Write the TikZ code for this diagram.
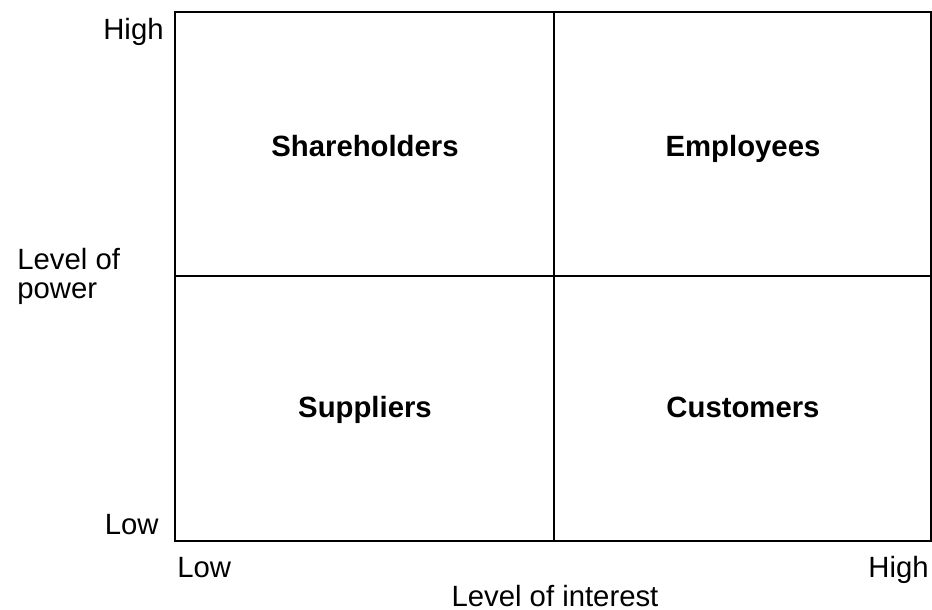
\documentclass[tikz,border=0pt]{standalone}
\usepackage{fontspec}
\setmainfont{Liberation Sans}
\usepackage{tikz}
\usetikzlibrary{positioning}

\tikzset{axislabel/.style={inner sep=0pt, font=\fontsize{14.65}{17.5}\selectfont},
	quadlabel/.style={inner sep=0pt, font=\fontsize{14.65}{17.5}\selectfont\bfseries}}

\begin{document}
\begin{tikzpicture}[x=0.5pt, y=-0.5pt]
	\useasboundingbox (0,0) rectangle (932,610);
	\coordinate (tl) at (175,12);
	\coordinate (br) at (931,541);
	\coordinate (mt) at (553.5,12);
	\coordinate (mb) at (553.5,541);
	\coordinate (ml) at (175,276);
	\coordinate (mr) at (931,276);
	\draw[line width=1pt] (tl) rectangle (br);
	\draw[line width=1pt] (mt) -- (mb);
	\draw[line width=1pt] (ml) -- (mr);
	\node[quadlabel, anchor=base] (share) at (365,156) {Shareholders};
	\node[quadlabel, anchor=base] (empl) at (743,156) {Employees};
	\node[quadlabel, anchor=base] (supp) at (365,417) {Suppliers};
	\node[quadlabel, anchor=base] (cust) at (743,417) {Customers};
	\node[axislabel, anchor=base east] (phigh) at (164,40) {High};
	\node[axislabel, anchor=base east] (plow) at (159,534) {Low};
	\node[axislabel, anchor=base west] (power) at (17,269) {Level of};
	\node[axislabel, anchor=base west] (power2) at (17,298) {power};
	\node[axislabel, anchor=base west] (ilow) at (177,577) {Low};
	\node[axislabel, anchor=base east] (ihigh) at (929,577) {High};
	\node[axislabel, anchor=base] (interest) at (555,606) {Level of interest};
\end{tikzpicture}
\end{document}
